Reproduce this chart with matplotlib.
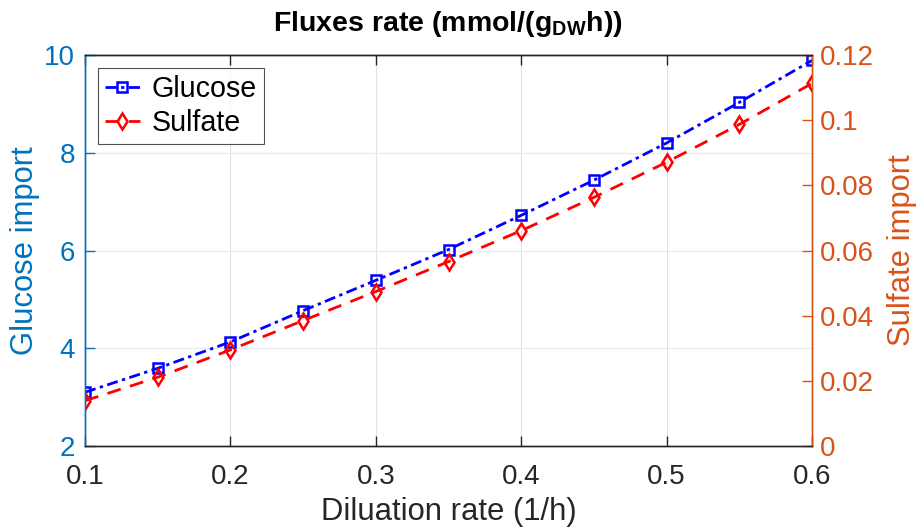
import matplotlib.pyplot as plt

# Data
dilution = [0.1, 0.15, 0.2, 0.25, 0.3, 0.35, 0.4, 0.45, 0.5, 0.55, 0.6]
glucose = [3.10, 3.59, 4.13, 4.77, 5.39, 6.02, 6.72, 7.44, 8.20, 9.03, 9.89]
sulfate = [0.0139, 0.0211, 0.0295, 0.0385, 0.0474, 0.0566, 0.0661, 0.0763,
           0.0871, 0.0987, 0.1113]

xticks = [0.1, 0.2, 0.3, 0.4, 0.5, 0.6]
left_ticks = [2, 4, 6, 8, 10]
right_ticks = [0, 0.02, 0.04, 0.06, 0.08, 0.1, 0.12]
right_labels = ['0', '0.02', '0.04', '0.06', '0.08', '0.1', '0.12']

# MATLAB-like colours
leftColor = '#0072BD'
rightColor = '#D95319'
axisDark = '#262626'

plt.rcParams['font.family'] = ['Liberation Sans', 'DejaVu Sans']
plt.rcParams['mathtext.fontset'] = 'custom'
plt.rcParams['mathtext.rm'] = 'Liberation Sans:bold'
plt.rcParams['mathtext.it'] = 'Liberation Sans:bold'
plt.rcParams['mathtext.bf'] = 'Liberation Sans:bold'

fig = plt.figure(figsize=(9.17, 5.27), dpi=100)
ax = fig.add_axes([0.0927, 0.1537, 0.7928, 0.7419])
ax2 = ax.twinx()

# Plot the two series
l1, = ax.plot(dilution, glucose, linestyle='-.', color='blue', linewidth=2,
              marker='s', markersize=6.5, markerfacecolor='none',
              markeredgewidth=1.8, label='Glucose')
l2, = ax2.plot(dilution, sulfate, linestyle='--', color='red', linewidth=2,
               marker='d', markersize=8.5, markerfacecolor='none',
               markeredgewidth=1.8, label='Sulfate', dashes=(5, 3.5))
l1.set_dashes((4, 1.6, 1.2, 1.6))

ax.set_xlim(0.1, 0.6)
ax.set_ylim(2, 10)
ax2.set_ylim(0, 0.12)
ax.set_xticks(xticks)
ax.set_xticklabels([str(t) for t in xticks])
ax.set_yticks(left_ticks)
ax2.set_yticks(right_ticks)
ax2.set_yticklabels(right_labels)

# Grid
ax.grid(False)
for t in xticks[1:-1]:
    ax.axvline(t, color='#E1E1E1', linewidth=0.8, zorder=0)
for t in left_ticks[1:-1]:
    ax.axhline(t, color='#E2EBF3', linewidth=0.8, zorder=0)

# Spines and ticks
for s in ['top', 'bottom']:
    ax.spines[s].set_color(axisDark)
    ax2.spines[s].set_color(axisDark)
ax.spines['left'].set_color(leftColor)
ax2.spines['left'].set_color(leftColor)
ax.spines['right'].set_color(rightColor)
ax2.spines['right'].set_color(rightColor)
for a in (ax, ax2):
    for s in a.spines.values():
        s.set_linewidth(1.0)

ax.tick_params(axis='x', direction='in', top=True, length=7, width=1,
               colors=axisDark, labelsize=20, pad=13)
ax.tick_params(axis='y', direction='in', length=7, width=1,
               colors=leftColor, labelsize=20, pad=7)
ax2.tick_params(axis='y', direction='in', length=7, width=1,
                colors=rightColor, labelsize=20, pad=6)

ax.set_xlabel('Diluation rate (1/h)', fontsize=22.3, color=axisDark,
              labelpad=5)
ax.set_ylabel('Glucose import', fontsize=22.3, color=leftColor, labelpad=3)
ax2.set_ylabel('Sulfate import', fontsize=22.3, color=rightColor, labelpad=9)
fig.text(0.489, 1 - 31 / 527, r'Fluxes rate (mmol/(g$_{DW}$h))',
         fontsize=20.5, fontweight='bold', ha='center', va='baseline')

leg = ax2.legend(handles=[l1, l2], loc='upper left', fontsize=20.6,
                 frameon=True, fancybox=False, handlelength=1.22,
                 handletextpad=0.42, borderpad=0.25, labelspacing=0.2,
                 borderaxespad=0.45)
leg.get_frame().set_edgecolor(axisDark)
leg.get_frame().set_linewidth(0.8)

fig.savefig('out.png', dpi=100)
